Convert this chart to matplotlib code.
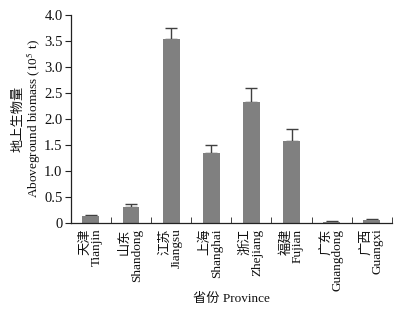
import matplotlib
matplotlib.use("Agg")
import matplotlib.pyplot as plt
import numpy as np

# Aboveground biomass by province (10^5 t), mean and upper error
PROVINCES_CN = ["天津", "山东", "江苏", "上海", "浙江", "福建", "广东", "广西"]
PROVINCES_EN = ["Tianjin", "Shandong", "Jiangsu", "Shanghai", "Zhejiang",
                "Fujian", "Guangdong", "Guangxi"]
BIOMASS = [0.13, 0.31, 3.54, 1.34, 2.33, 1.58, 0.02, 0.06]
ERR = [0.03, 0.05, 0.20, 0.15, 0.27, 0.23, 0.01, 0.02]
YTICKS = [0, 0.5, 1.0, 1.5, 2.0, 2.5, 3.0, 3.5, 4.0]
YTICK_LABELS = ["0", "0.5", "1.0", "1.5", "2.0", "2.5", "3.0", "3.5", "4.0"]

FONTS = ["Liberation Serif", "Noto Sans CJK SC"]
plt.rcParams["font.family"] = FONTS
plt.rcParams["mathtext.fontset"] = "stix"

fig = plt.figure(figsize=(4.12, 3.13), dpi=100)
ax = fig.add_axes([0.172, 0.2875, 0.779, 0.665])

x = np.arange(len(BIOMASS))
ax.bar(x, BIOMASS, width=0.42, color="#808080", zorder=2)
ax.errorbar(x, BIOMASS, yerr=[np.zeros(len(ERR)), ERR], fmt="none",
            ecolor="#404040", elinewidth=1.0, capsize=4, capthick=1.0, zorder=1)

ax.set_xlim(-0.5, 7.5)
ax.set_ylim(0, 4.0)
ax.set_yticks(YTICKS)
ax.set_yticklabels(YTICK_LABELS, fontsize=10.5)

# category labels, boundary ticks pointing inward
ax.set_xticks(x)
ax.set_xticklabels([f"{c}\n{e}" for c, e in zip(PROVINCES_CN, PROVINCES_EN)],
                   rotation=90, fontsize=9.5, va="top", ha="center",
                   multialignment="right", linespacing=1.0)
ax.tick_params(axis="x", length=0, pad=4, colors="#111111")
ax.set_xticks(np.arange(0.5, 8.0, 1.0), minor=True)
ax.tick_params(axis="x", which="minor", direction="in", length=4, color="#222222")
ax.tick_params(axis="y", direction="out", length=4, color="#222222",
               labelcolor="#111111", pad=2)

for s in ("top", "right"):
    ax.spines[s].set_visible(False)
for s in ("left", "bottom"):
    ax.spines[s].set_color("#222222")
    ax.spines[s].set_linewidth(0.9)

ax.set_ylabel("地上生物量\nAboveground biomass (10$^5$ t)", fontsize=9.5,
              color="#111111", linespacing=0.95, labelpad=1)
ax.set_xlabel("省份 Province", fontsize=9.5, color="#111111", labelpad=2)

fig.savefig("out.png", dpi=100, facecolor="white")
